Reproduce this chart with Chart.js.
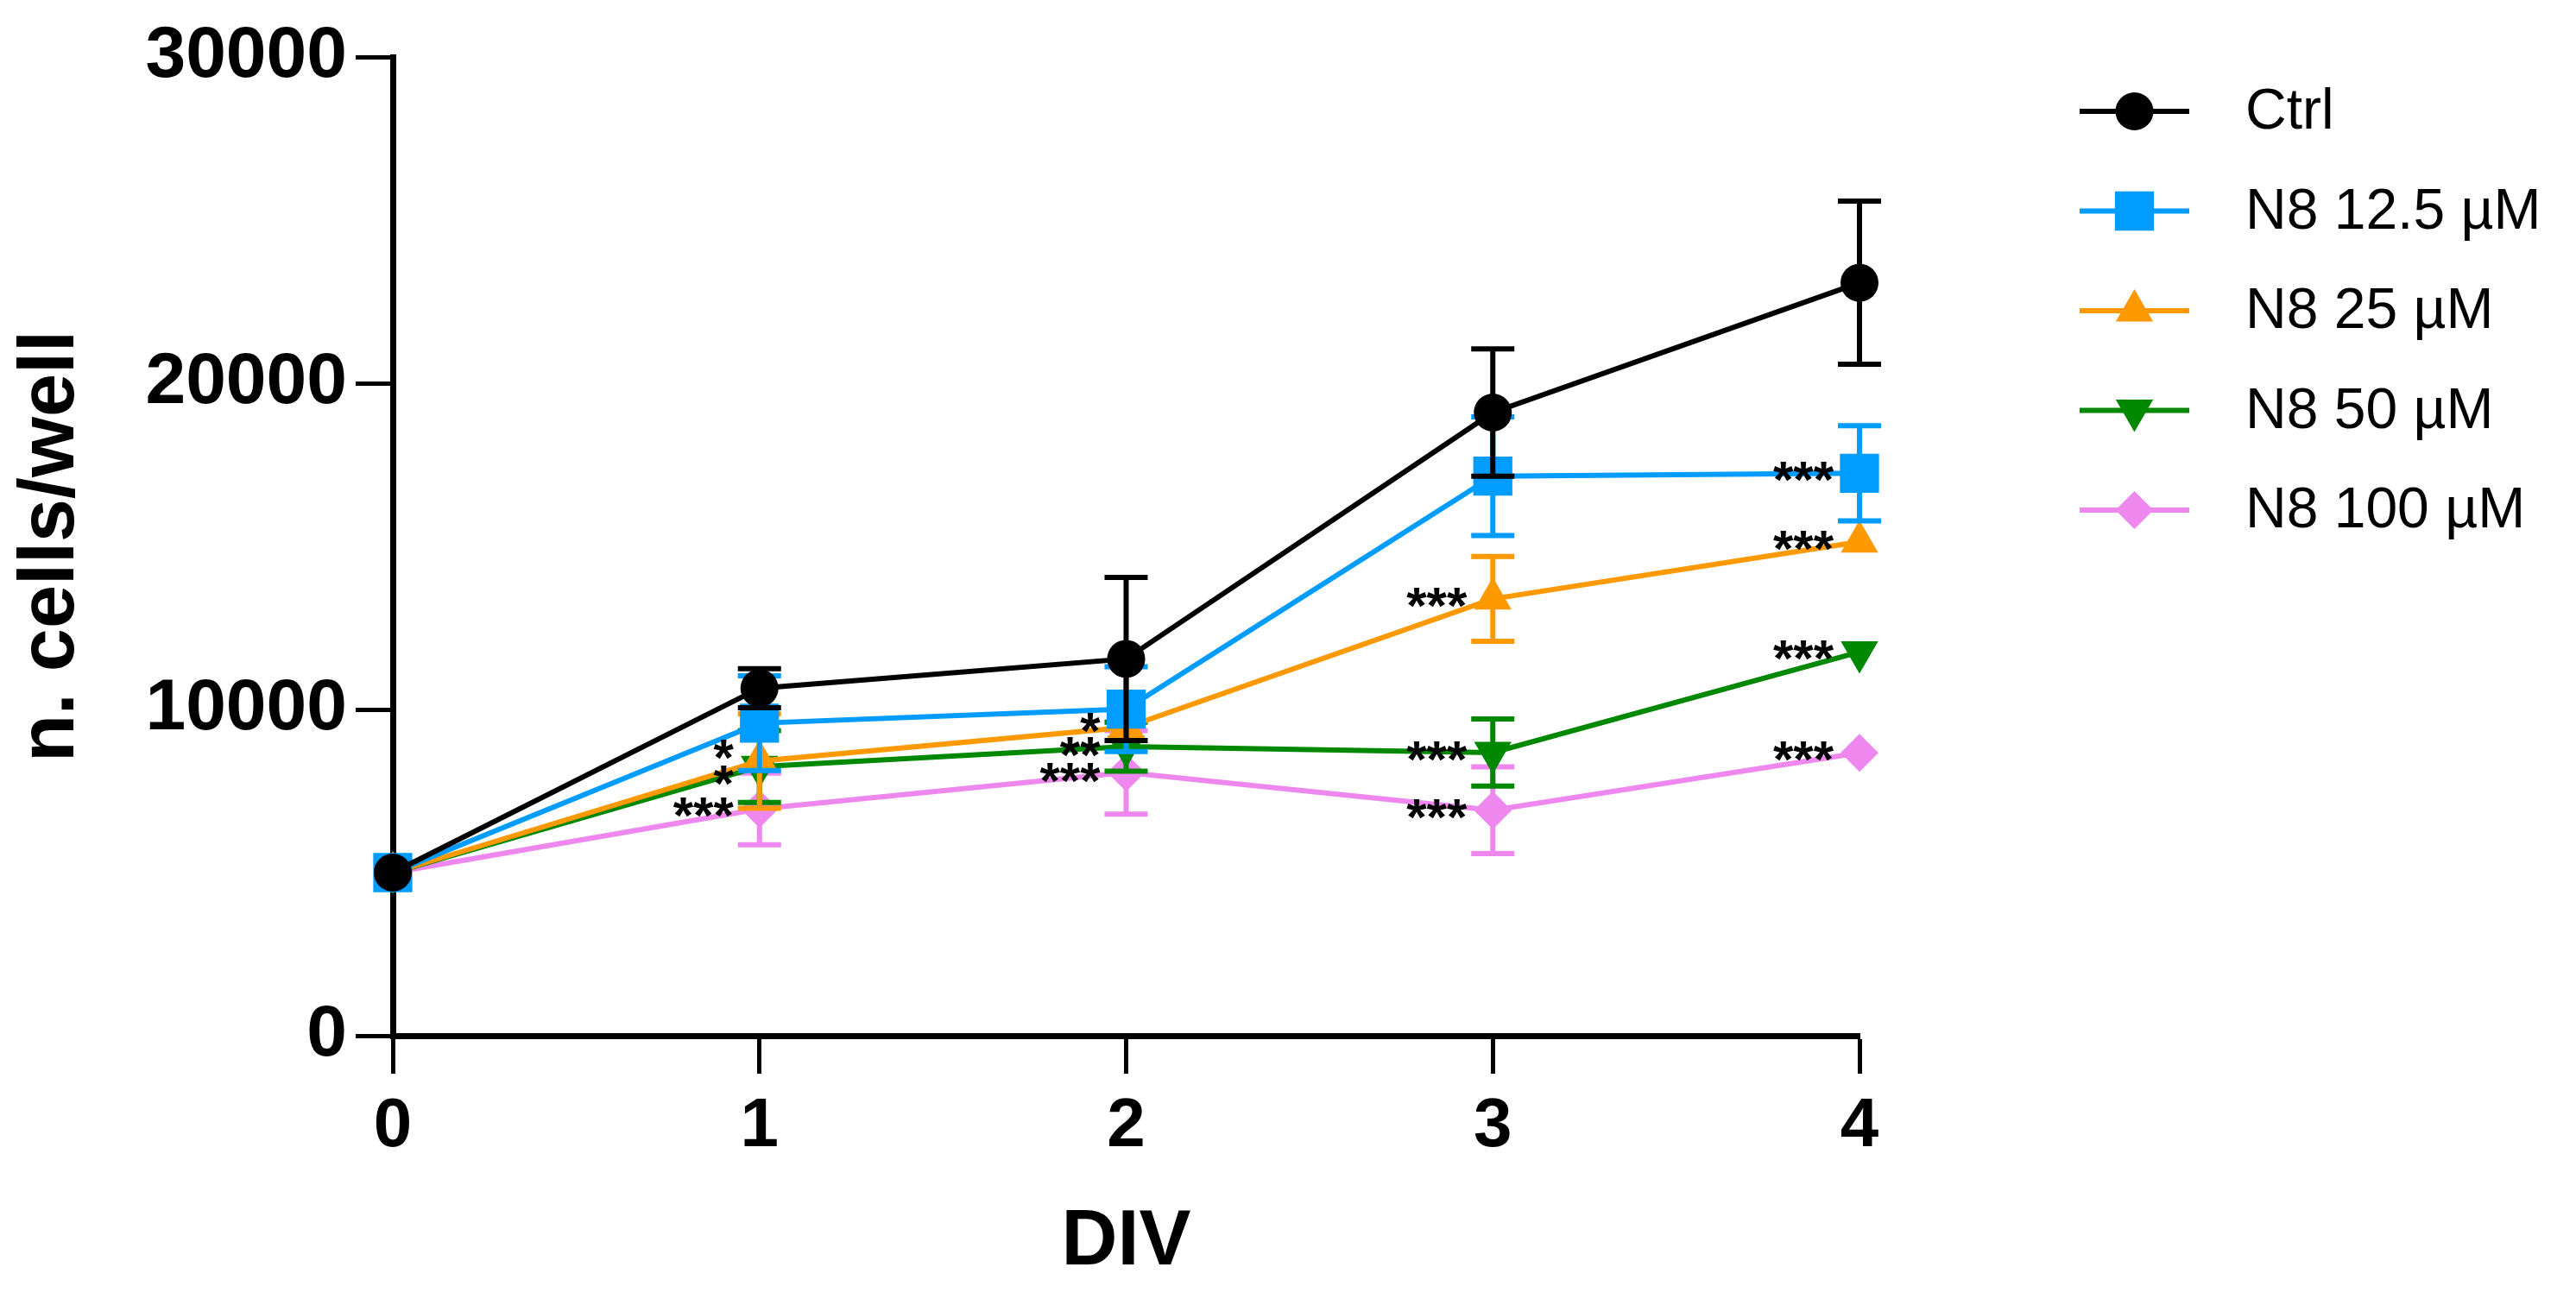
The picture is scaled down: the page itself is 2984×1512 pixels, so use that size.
<!DOCTYPE html>
<html>
<head>
<meta charset="utf-8">
<title>n. cells/well vs DIV</title>
<script src="https://cdn.jsdelivr.net/npm/chart.js"></script>
<style>
  html, body { margin: 0; padding: 0; background: #fff; }
  #wrap { width: 2984px; height: 1512px; position: relative; }
</style>
</head>
<body>
<div id="wrap"><canvas id="growthChart"></canvas></div>
<script>
// days in vitro
const days = [0, 1, 2, 3, 4];
const yTicks = [0, 10000, 20000, 30000];
const seriesNames = ['Ctrl', 'N8 12.5 µM', 'N8 25 µM', 'N8 50 µM', 'N8 100 µM'];

// mean cells per well
const ctrlMean = [5000, 10650, 11550, 19100, 23080];
const n8_12Mean = [5000, 9580, 10010, 17150, 17240];
const n8_25Mean = [5000, 8420, 9450, 13390, 15140];
const n8_50Mean = [5000, 8250, 8860, 8680, 11760];
const n8_100Mean = [5000, 6950, 8070, 6910, 8670];

// error bars (+/-)
const ctrlErr = [0, 600, 2500, 1950, 2500];
const n8_12Err = [0, 1450, 1300, 1820, 1460];
const n8_25Err = [0, 1450, 400, 1300, 300];
const n8_50Err = [0, 1100, 750, 1030, 300];
const n8_100Err = [0, 1100, 1280, 1330, 300];

// significance marks: [series, day index, text]
const stars = [
  [2, 1, '*'], [3, 1, '*'], [4, 1, '***'],
  [2, 2, '*'], [3, 2, '**'], [4, 2, '***'],
  [2, 3, '***'], [3, 3, '***'], [4, 3, '***'],
  [1, 4, '***'], [2, 4, '***'], [3, 4, '***'], [4, 4, '***']
];

const means = [ctrlMean, n8_12Mean, n8_25Mean, n8_50Mean, n8_100Mean];
const errs = [ctrlErr, n8_12Err, n8_25Err, n8_50Err, n8_100Err];
const colors = ['#000000', '#009CFF', '#FF9900', '#008800', '#EE88EE'];
const shapes = ['circle', 'rect', 'triangle', 'triangle', 'rectRot'];
const rotations = [0, 0, 0, 180, 0];
const radii = [22, 32, 25, 25, 22];

const FONT = '"Liberation Sans", Arial, sans-serif';
const LINE_W = 6;

const datasets = seriesNames.map((name, s) => ({
  label: name,
  data: days.map((d, i) => ({ x: d, y: means[s][i] })),
  errors: errs[s],
  borderColor: colors[s],
  backgroundColor: colors[s],
  borderWidth: LINE_W,
  pointStyle: shapes[s],
  pointRotation: rotations[s],
  pointRadius: radii[s],
  pointBorderWidth: 0,
  tension: 0,
  clip: false
}));

function drawMarker(ctx, ds, x, y) {
  ctx.fillStyle = ds.backgroundColor;
  ctx.strokeStyle = ds.borderColor;
  Chart.helpers.drawPoint(ctx, {
    pointStyle: ds.pointStyle,
    rotation: ds.pointRotation,
    radius: ds.pointRadius,
    borderWidth: 0
  }, x, y);
}

const errorBars = {
  id: 'errorBars',
  beforeDatasetDraw(chart, args) {
    const ds = chart.data.datasets[args.index];
    if (!ds.errors) return;
    const ys = chart.scales.y;
    const ctx = chart.ctx;
    ctx.save();
    ctx.strokeStyle = ds.borderColor;
    ctx.lineWidth = LINE_W;
    args.meta.data.forEach((pt, i) => {
      const e = ds.errors[i];
      if (!e) return;
      const v = ds.data[i].y;
      const top = ys.getPixelForValue(v + e);
      const bot = ys.getPixelForValue(v - e);
      // bars shorter than the symbol stay hidden
      if (bot - pt.y < ds.pointRadius * 0.8) return;
      ctx.beginPath();
      ctx.moveTo(pt.x, top); ctx.lineTo(pt.x, bot);
      ctx.moveTo(pt.x - 25, top); ctx.lineTo(pt.x + 25, top);
      ctx.moveTo(pt.x - 25, bot); ctx.lineTo(pt.x + 25, bot);
      ctx.stroke();
    });
    ctx.restore();
  }
};

const starMarks = {
  id: 'starMarks',
  afterDatasetsDraw(chart) {
    const ctx = chart.ctx;
    const byDay = {};
    stars.forEach(([s, i, txt]) => {
      const pt = chart.getDatasetMeta(s).data[i];
      (byDay[i] = byDay[i] || []).push({ x: pt.x, y: pt.y, txt });
    });
    ctx.save();
    ctx.fillStyle = '#000';
    ctx.font = 'bold 60px ' + FONT;
    ctx.textAlign = 'right';
    ctx.textBaseline = 'alphabetic';
    Object.values(byDay).forEach(list => {
      list.sort((a, b) => a.y - b.y);
      // push apart marks that would overlap
      for (let k = 1; k < list.length; k++) {
        const gap = list[k].y - list[k - 1].y;
        if (gap < 30) {
          const d = (30 - gap) / 2;
          list[k - 1].y -= d;
          list[k].y += d;
        }
      }
      list.forEach(m => ctx.fillText(m.txt, m.x - 30, m.y + 28));
    });
    ctx.restore();
  }
};

const sideLegend = {
  id: 'sideLegend',
  afterDraw(chart) {
    const ctx = chart.ctx;
    const x0 = 2409, x1 = 2536, tx = 2601;
    ctx.save();
    chart.data.datasets.forEach((ds, k) => {
      const y = 129 + k * 115.5;
      ctx.strokeStyle = ds.borderColor;
      ctx.lineWidth = LINE_W;
      ctx.beginPath();
      ctx.moveTo(x0, y); ctx.lineTo(x1, y);
      ctx.stroke();
      drawMarker(ctx, ds, (x0 + x1) / 2, y);
      ctx.fillStyle = '#000';
      ctx.font = '66px ' + FONT;
      ctx.textAlign = 'left';
      ctx.textBaseline = 'middle';
      ctx.fillText(ds.label, tx, y + 2);
    });
    ctx.restore();
  }
};

new Chart(document.getElementById('growthChart'), {
  type: 'line',
  data: { datasets },
  plugins: [errorBars, starMarks, sideLegend],
  options: {
    responsive: true,
    maintainAspectRatio: false,
    animation: false,
    layout: { padding: { left: 0, top: 66, right: 830, bottom: 0 } },
    plugins: { legend: { display: false }, tooltip: { enabled: false } },
    scales: {
      x: {
        type: 'linear',
        min: 0,
        max: 4,
        afterBuildTicks: s => { s.ticks = days.map(v => ({ value: v })); },
        afterFit: s => { s.height = 312; },
        grid: { display: true, drawOnChartArea: false, drawTicks: true, tickLength: 44, tickWidth: 5, color: '#000' },
        border: { display: true, color: '#000', width: 7 },
        ticks: { color: '#000', padding: 14, font: { family: FONT, size: 80, weight: 'bold' }, callback: v => String(v) },
        title: { display: true, text: 'DIV', color: '#000', padding: { top: 0, bottom: 18 }, font: { family: FONT, size: 90, weight: 'bold' } }
      },
      y: {
        type: 'linear',
        min: 0,
        max: 30000,
        afterBuildTicks: s => { s.ticks = yTicks.map(v => ({ value: v })); },
        afterFit: s => { s.width = 455; },
        grid: { display: true, drawOnChartArea: false, drawTicks: true, tickLength: 43, tickWidth: 5, color: '#000' },
        border: { display: true, color: '#000', width: 7 },
        ticks: { color: '#000', padding: 10, font: { family: FONT, size: 84, weight: 'bold' }, callback: v => String(v) },
        title: { display: true, text: 'n. cells/well', color: '#000', padding: { top: 6, bottom: 0 }, font: { family: FONT, size: 90, weight: 'bold' } }
      }
    }
  }
});
</script>
</body>
</html>
